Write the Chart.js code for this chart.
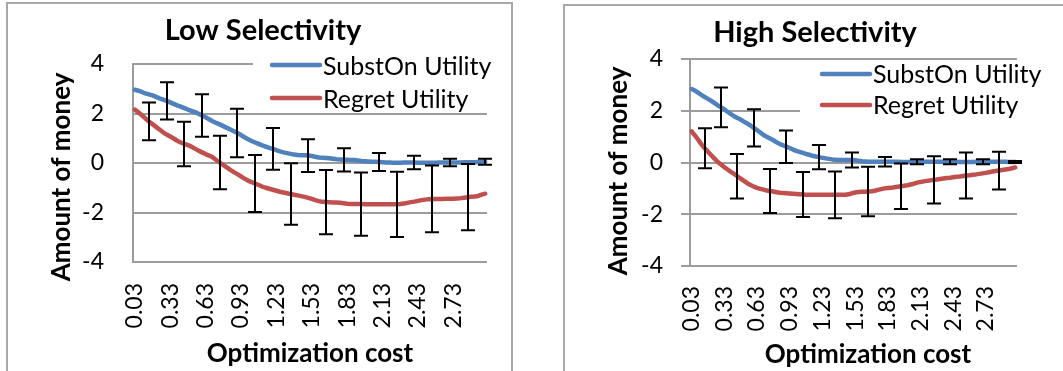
<!DOCTYPE html>
<html>
<head>
<meta charset="utf-8">
<script src="https://cdn.jsdelivr.net/npm/chart.js@4/dist/chart.umd.min.js"></script>
<style>
  html, body { margin: 0; padding: 0; background: #fff; width: 1063px; height: 371px; overflow: hidden; position: relative; }
  canvas { position: absolute; left: 0; top: 0; }
  .frame { position: absolute; border: 2px solid #a8a8a8; border-bottom: none; box-sizing: border-box; }
</style>
</head>
<body>
<div class="frame" style="left:6px;top:2px;width:507px;height:400px"></div>
<div class="frame" style="left:563px;top:4px;width:600px;height:400px"></div>
<canvas id="low" width="1063" height="371"></canvas>
<canvas id="high" width="1063" height="371"></canvas>
<script>
// Optimization cost categories (x axis)
const costs = [
  '0.03','0.06','0.09','0.12','0.15','0.18','0.21','0.24','0.27','0.30',
  '0.33','0.36','0.39','0.42','0.45','0.48','0.51','0.54','0.57','0.60',
  '0.63','0.66','0.69','0.72','0.75','0.78','0.81','0.84','0.87','0.90',
  '0.93','0.96','0.99','1.02','1.05','1.08','1.11','1.14','1.17','1.20',
  '1.23','1.26','1.29','1.32','1.35','1.38','1.41','1.44','1.47','1.50',
  '1.53','1.56','1.59','1.62','1.65','1.68','1.71','1.74','1.77','1.80',
  '1.83','1.86','1.89','1.92','1.95','1.98','2.01','2.04','2.07','2.10',
  '2.13','2.16','2.19','2.22','2.25','2.28','2.31','2.34','2.37','2.40',
  '2.43','2.46','2.49','2.52','2.55','2.58','2.61','2.64','2.67','2.70',
  '2.73','2.76','2.79','2.82','2.85','2.88','2.91','2.94','2.97','3.00'
];

// Low selectivity
const lowSubstOn = [
  2.96,2.92,2.87,2.81,2.77,2.73,2.67,2.61,2.56,2.51,
  2.45,2.39,2.33,2.28,2.22,2.16,2.11,2.06,1.99,1.92,
  1.85,1.77,1.69,1.62,1.56,1.49,1.42,1.35,1.28,1.21,
  1.13,1.04,0.96,0.89,0.83,0.77,0.71,0.66,0.61,0.57,
  0.52,0.47,0.43,0.40,0.37,0.34,0.32,0.31,0.31,0.30,
  0.28,0.25,0.22,0.21,0.20,0.19,0.17,0.15,0.14,0.13,
  0.13,0.12,0.12,0.10,0.08,0.07,0.06,0.05,0.05,0.04,
  0.03,0.02,0.02,0.01,0.01,0.01,0.02,0.02,0.02,0.02,
  0.01,0.01,0.01,0.01,0.01,0.01,0.02,0.02,0.02,0.02,
  0.02,0.02,0.02,0.03,0.03,0.03,0.03,0.04,0.04,0.05
];
const lowRegret = [
  2.16,2.05,1.93,1.80,1.68,1.57,1.46,1.35,1.24,1.15,
  1.07,0.99,0.90,0.83,0.77,0.72,0.66,0.58,0.50,0.43,
  0.36,0.30,0.23,0.12,0.02,-0.08,-0.18,-0.28,-0.37,-0.45,
  -0.54,-0.63,-0.71,-0.77,-0.83,-0.89,-0.95,-1.00,-1.04,-1.08,
  -1.12,-1.16,-1.19,-1.22,-1.25,-1.28,-1.31,-1.34,-1.37,-1.41,
  -1.45,-1.50,-1.54,-1.57,-1.58,-1.59,-1.60,-1.60,-1.61,-1.63,
  -1.65,-1.66,-1.66,-1.66,-1.66,-1.67,-1.67,-1.67,-1.67,-1.67,
  -1.67,-1.67,-1.67,-1.67,-1.67,-1.66,-1.64,-1.61,-1.58,-1.56,
  -1.53,-1.50,-1.48,-1.46,-1.45,-1.45,-1.45,-1.45,-1.44,-1.44,
  -1.44,-1.43,-1.42,-1.40,-1.38,-1.36,-1.35,-1.33,-1.28,-1.24
];

// High selectivity
const highSubstOn = [
  2.84,2.78,2.70,2.61,2.53,2.46,2.38,2.30,2.21,2.13,
  2.05,1.96,1.87,1.79,1.72,1.66,1.58,1.51,1.43,1.34,
  1.25,1.16,1.06,0.99,0.93,0.86,0.78,0.71,0.66,0.61,
  0.56,0.50,0.45,0.41,0.37,0.33,0.30,0.26,0.23,0.21,
  0.18,0.16,0.14,0.12,0.11,0.10,0.10,0.10,0.10,0.10,
  0.09,0.07,0.05,0.04,0.03,0.03,0.03,0.03,0.03,0.03,
  0.03,0.03,0.03,0.03,0.02,0.02,0.02,0.02,0.03,0.03,
  0.03,0.03,0.03,0.03,0.03,0.03,0.03,0.03,0.03,0.03,
  0.03,0.03,0.02,0.02,0.02,0.02,0.02,0.03,0.03,0.03,
  0.03,0.03,0.03,0.03,0.03,0.03,0.03,0.02,0.02,0.02
];
const highRegret = [
  1.20,1.05,0.88,0.70,0.55,0.42,0.28,0.15,0.02,-0.08,
  -0.18,-0.27,-0.36,-0.44,-0.53,-0.62,-0.71,-0.80,-0.87,-0.93,
  -0.98,-1.02,-1.05,-1.08,-1.10,-1.12,-1.15,-1.17,-1.18,-1.19,
  -1.20,-1.21,-1.22,-1.23,-1.24,-1.25,-1.25,-1.25,-1.25,-1.25,
  -1.25,-1.25,-1.25,-1.25,-1.25,-1.25,-1.25,-1.25,-1.23,-1.19,
  -1.16,-1.14,-1.13,-1.13,-1.12,-1.11,-1.09,-1.06,-1.03,-1.00,
  -0.99,-0.98,-0.96,-0.94,-0.92,-0.90,-0.88,-0.85,-0.82,-0.78,
  -0.75,-0.73,-0.71,-0.69,-0.67,-0.66,-0.64,-0.62,-0.60,-0.59,
  -0.57,-0.55,-0.54,-0.52,-0.50,-0.49,-0.47,-0.46,-0.44,-0.42,
  -0.40,-0.38,-0.35,-0.33,-0.31,-0.29,-0.27,-0.25,-0.22,-0.19
];

// Error bars: category indices and half-widths (+/-)
const substOnErrIdx = [9, 19, 29, 39, 49, 59, 69, 79, 89, 99];
const regretErrIdx  = [4, 14, 24, 34, 44, 54, 64, 74, 84, 94];
const lowSubstOnErr  = [0.75, 0.86, 0.98, 0.84, 0.66, 0.47, 0.36, 0.27, 0.15, 0.12];
const lowRegretErr   = [0.76, 0.90, 1.08, 1.15, 1.24, 1.30, 1.28, 1.32, 1.35, 1.34];
const highSubstOnErr = [0.77, 0.72, 0.63, 0.47, 0.29, 0.18, 0.10, 0.10, 0.10, 0.04];
const highRegretErr  = [0.77, 0.86, 0.85, 0.87, 0.90, 0.96, 0.88, 0.91, 0.89, 0.73];

const yMin = -4, yMax = 4, yStep = 2;
const labelEvery = 10;

const W = 1063, H = 371;
const BLUE = '#4F81BD', RED = '#C0504D', GRID = '#9c9c9c';
const FONT = 'Lato, "Open Sans", sans-serif';

// Draws error bars, legend, titles and axis titles
const decor = {
  id: 'decor',
  afterDatasetsDraw(chart) {
    const ctx = chart.ctx, xs = chart.scales.x, ys = chart.scales.y;
    ctx.save();
    ctx.strokeStyle = '#000';
    ctx.lineWidth = 2;
    chart.data.datasets.forEach(ds => {
      ds.errIdx.forEach((i, k) => {
        const v = ds.data[i], e = ds.err[k];
        const x = Math.round(xs.getPixelForValue(i));
        const yt = ys.getPixelForValue(v + e), yb = ys.getPixelForValue(v - e);
        ctx.beginPath();
        ctx.moveTo(x, yt); ctx.lineTo(x, yb);
        ctx.moveTo(x - 7, yt); ctx.lineTo(x + 7, yt);
        ctx.moveTo(x - 7, yb); ctx.lineTo(x + 7, yb);
        ctx.stroke();
      });
    });
    ctx.restore();
  },
  afterDraw(chart, args, o) {
    const ctx = chart.ctx;
    ctx.save();
    // legend
    const lg = o.legend;
    ctx.fillStyle = '#fff';
    ctx.fillRect(lg.box[0], lg.box[1], lg.box[2], lg.box[3]);
    ctx.font = '25px ' + FONT;
    ctx.textAlign = 'left';
    ctx.textBaseline = 'alphabetic';
    chart.data.datasets.forEach((ds, i) => {
      const y = lg.rows[i];
      ctx.strokeStyle = ds.borderColor;
      ctx.lineWidth = 4.5;
      ctx.lineCap = 'round';
      ctx.beginPath(); ctx.moveTo(lg.x1, y); ctx.lineTo(lg.x2, y); ctx.stroke();
      ctx.fillStyle = '#000';
      ctx.fillText(ds.label, lg.textX, y + lg.baseOff);
    });
    // title
    ctx.fillStyle = '#000';
    ctx.textAlign = 'center';
    ctx.font = 'bold 29px ' + FONT;
    ctx.fillText(o.title.text, o.title.x, o.title.y);
    // x axis title
    ctx.font = 'bold 26px ' + FONT;
    ctx.fillText(o.xTitle.text, o.xTitle.x, o.xTitle.y);
    // y axis title
    ctx.translate(o.yTitle.x, o.yTitle.y);
    ctx.rotate(-Math.PI / 2);
    ctx.fillText(o.yTitle.text, 0, 0);
    ctx.restore();
  }
};

function makePanel(id, cfg) {
  const a = cfg.area;
  return new Chart(document.getElementById(id), {
    type: 'line',
    data: {
      labels: costs,
      datasets: [
        { label: 'SubstOn Utility', data: cfg.substOn, borderColor: BLUE, errIdx: substOnErrIdx, err: cfg.substOnErr },
        { label: 'Regret Utility', data: cfg.regret, borderColor: RED, errIdx: regretErrIdx, err: cfg.regretErr }
      ].map(d => Object.assign(d, { borderWidth: 4.5, pointRadius: 0, fill: false, tension: 0, borderCapStyle: 'round', borderJoinStyle: 'round' }))
    },
    options: {
      responsive: false,
      animation: false,
      devicePixelRatio: 1,
      layout: { padding: { left: 0, top: a.top, right: W - a.right, bottom: 0 } },
      plugins: {
        legend: { display: false },
        title: { display: false },
        tooltip: { enabled: false },
        decor: cfg.decor
      },
      scales: {
        x: {
          type: 'category',
          offset: true,
          grid: { display: false, drawTicks: false },
          border: { display: false },
          ticks: {
            autoSkip: false, minRotation: 90, maxRotation: 90,
            padding: cfg.xTickPad, color: '#000', font: { family: FONT, size: 23 },
            callback: (v, i) => (i % labelEvery === 0 ? costs[i] : '')
          },
          afterFit: s => { s.height = H - a.bottom; }
        },
        y: {
          min: yMin, max: yMax,
          ticks: { stepSize: yStep, padding: cfg.yTickPad, color: '#000', font: { family: FONT, size: 23 } },
          grid: { color: GRID, lineWidth: 2, drawTicks: cfg.tickLen > 0, tickLength: cfg.tickLen },
          border: { display: true, color: GRID, width: 2 },
          afterFit: s => { s.width = a.left; }
        }
      }
    },
    plugins: [decor]
  });
}

makePanel('low', {
  area: { left: 133, top: 64, right: 487, bottom: 262 },
  substOn: lowSubstOn, regret: lowRegret,
  substOnErr: lowSubstOnErr, regretErr: lowRegretErr,
  xTickPad: 21, yTickPad: 29, tickLen: 0,
  decor: {
    title: { text: 'Low Selectivity', x: 263, y: 40 },
    xTitle: { text: 'Optimization cost', x: 310, y: 362 },
    yTitle: { text: 'Amount of money', x: 70, y: 177 },
    legend: { box: [253, 48, 240, 60], x1: 272, x2: 320, textX: 323, rows: [65, 98], baseOff: 9.5 }
  }
});

makePanel('high', {
  area: { left: 690, top: 59, right: 1043, bottom: 266 },
  substOn: highSubstOn, regret: highRegret,
  substOnErr: highSubstOnErr, regretErr: highRegretErr,
  xTickPad: 20, yTickPad: 18, tickLen: 9,
  decor: {
    title: { text: 'High Selectivity', x: 815, y: 42 },
    xTitle: { text: 'Optimization cost', x: 868, y: 363 },
    yTitle: { text: 'Amount of money', x: 627, y: 171 },
    legend: { box: [800, 62, 243, 60], x1: 822, x2: 870, textX: 873, rows: [74, 105], baseOff: 9 }
  }
});
</script>
</body>
</html>
